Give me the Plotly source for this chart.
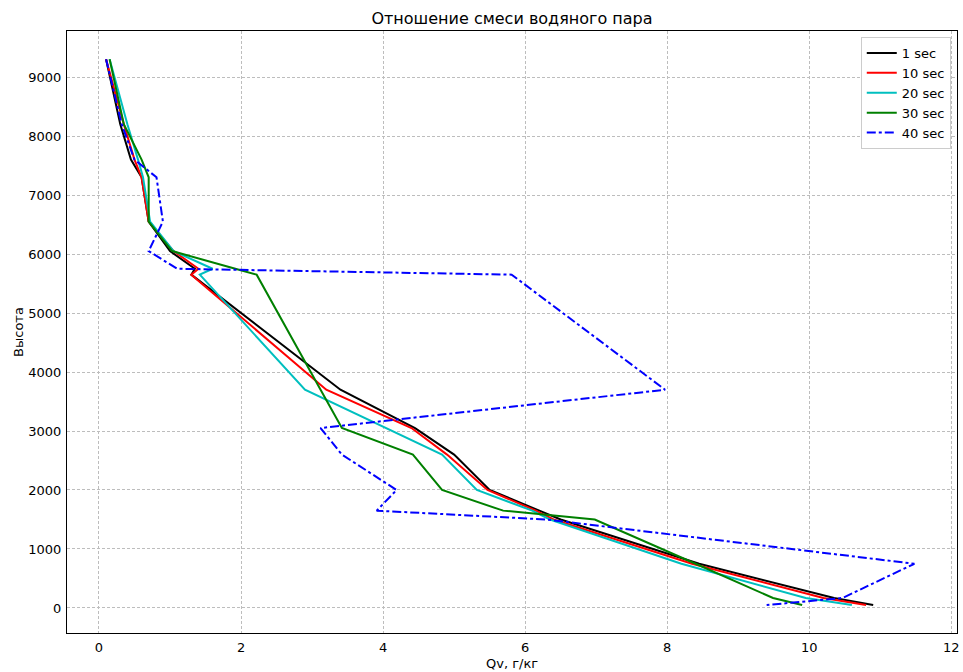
import plotly.graph_objects as go

heights = [9300, 8200, 7600, 7300, 6550, 6050, 5750, 5650, 3700, 3050, 2600, 2000, 1650, 1500, 750, 170, 50]
qv_1 = [0.10, 0.30, 0.45, 0.60, 0.70, 1.00, 1.35, 1.30, 3.40, 4.45, 5.00, 5.50, 6.20, 6.50, 8.45, 10.35, 10.90]
qv_10 = [0.10, 0.35, 0.50, 0.60, 0.70, 1.05, 1.40, 1.30, 3.20, 4.40, 4.90, 5.47, 6.15, 6.40, 8.35, 10.20, 10.80]
qv_20 = [0.15, 0.40, 0.55, 0.62, 0.72, 1.05, 1.60, 1.42, 2.90, 4.05, 4.83, 5.32, 6.10, 6.35, 8.20, 9.95, 10.60]
qv_30 = [0.15, 0.35, 0.60, 0.70, 0.70, 1.03, 1.92, 2.22, 3.12, 3.42, 4.42, 4.83, 5.69, 6.98, 8.40, 9.49, 9.90]
qv_40 = [0.10, 0.32, 0.50, 0.81, 0.90, 0.70, 1.10, 5.81, 7.97, 3.12, 3.42, 4.19, 3.91, 6.30, 11.48, 10.47, 9.40]

series = [
    ("1 sec", qv_1, "black", "solid"),
    ("10 sec", qv_10, "red", "solid"),
    ("20 sec", qv_20, "#00bfbf", "solid"),
    ("30 sec", qv_30, "green", "solid"),
    ("40 sec", qv_40, "blue", "dashdot"),
]

fig = go.Figure()
for name, xs, color, dash in series:
    fig.add_trace(go.Scatter(x=xs, y=heights, mode="lines", name=name,
                             line=dict(color=color, width=2, dash=dash)))

axis_common = dict(
    showline=True, linecolor="black", linewidth=1, mirror=True,
    ticks="outside", ticklen=2, tickcolor="rgba(0,0,0,0)",
    showgrid=True, gridcolor="#bdbdbd", griddash="3px,2px", gridwidth=1,
    zeroline=False, tickfont=dict(size=13, color="black"), automargin=False,
)

fig.update_layout(
    width=963, height=672,
    margin=dict(l=67, r=6, t=31, b=39),
    paper_bgcolor="white", plot_bgcolor="white",
    font=dict(family="DejaVu Sans", size=13, color="black"),
    title=dict(text="Отношение смеси водяного пара", xref="paper", x=0.5, xanchor="center",
               yref="container", y=0.973, yanchor="middle", font=dict(size=16)),
    xaxis=dict(range=[-0.45, 12.08], tickvals=[0, 2, 4, 6, 8, 10, 12], **axis_common),
    yaxis=dict(range=[-424, 9780], tickvals=list(range(0, 10000, 1000)),
               title=dict(text="Высота", standoff=1, font=dict(size=13)), **axis_common),
    legend=dict(x=0.993, y=0.99, xanchor="right", yanchor="top",
                bgcolor="white", bordercolor="#cccccc", borderwidth=1,
                font=dict(size=13), tracegroupgap=0),
    annotations=[dict(text="Qv, г/кг", xref="paper", yref="paper", x=0.5, y=-0.05,
                      xanchor="center", yanchor="middle", showarrow=False,
                      font=dict(size=13, color="black"))],
)

fig.write_html("out.html")
